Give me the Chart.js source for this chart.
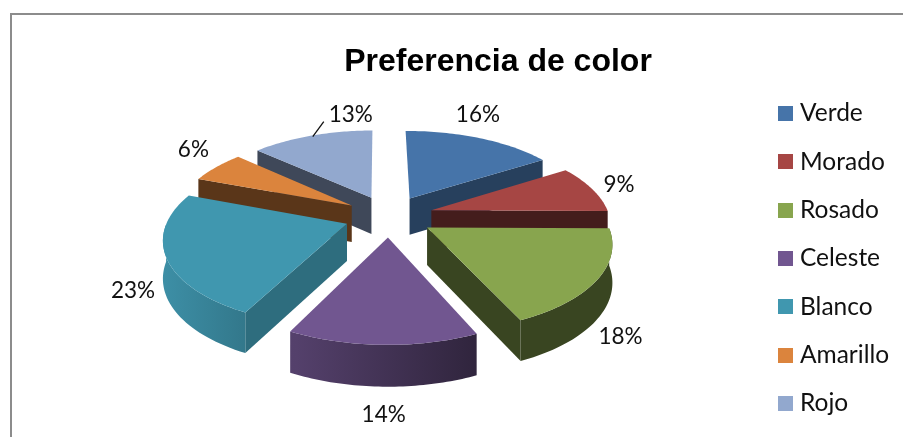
<!DOCTYPE html>
<html>
<head>
<meta charset="utf-8">
<style>
    html, body { margin: 0; padding: 0; background: #fff; }
    #wrap { position: relative; width: 903px; height: 437px; }
</style>
<script src="https://cdn.jsdelivr.net/npm/chart.js@4"></script>
</head>
<body>
<div id="wrap"><canvas id="colorChart" width="903" height="437"></canvas></div>
<script>
const categories = ['Verde', 'Morado', 'Rosado', 'Celeste', 'Blanco', 'Amarillo', 'Rojo'];
const percents = [16, 9, 18, 14, 23, 6, 13];
const sliceColors = ['#4674a9', '#a64644', '#88a54e', '#715690', '#4097af', '#db843d', '#92a8ce'];
// how dark the cut faces of each slice are
const cutShades = [0.55, 0.41, 0.42, 0.6, 0.72, 0.41, 0.43];
// label position relative to the middle of the slice's rim
const labelOffsets = [[-2, -23], [27, -4], [23, 57], [1, 70], [-33, 34], [-23, -17], [39, -21]];

// Pie projected on a tilted plane: front of the pie looks bigger than the back
const view = { cx: 389, cy: 216, rx: 178, ry: 83, persp: 0.156, explode: 0.25 };
const LABEL_FONT = '22.5px Lato';
const LEGEND_FONT = '24.5px Lato';

function project(u, v) {
    const w = 1 / (1 - view.persp * v);
    return { x: view.cx + view.rx * u * w, y: view.cy + view.ry * v * w, w: w };
}

// wall height grows a little towards the viewer
function depth(w) {
    return 17 + 20 * w;
}

function shadeColor(hex, f) {
    const n = parseInt(hex.slice(1), 16);
    const r = Math.round((n >> 16 & 255) * f);
    const g = Math.round((n >> 8 & 255) * f);
    const b = Math.round((n & 255) * f);
    return `rgb(${r},${g},${b})`;
}

// --- slice geometry, taken from the arc elements Chart.js computed ---
function sliceShape(arc) {
    const start = arc.startAngle + Math.PI / 2;
    const end = arc.endAngle + Math.PI / 2;
    const mid = (start + end) / 2;
    const apex = { u: view.explode * Math.sin(mid), v: -view.explode * Math.cos(mid) };
    const rim = [];
    const steps = 48;
    for (let i = 0; i <= steps; i++) {
        const t = start + (end - start) * i / steps;
        rim.push({ t: t, u: apex.u + Math.sin(t), v: apex.v - Math.cos(t) });
    }
    return { start, end, mid, apex, rim };
}

function fillPoly(ctx, pts, fill) {
    ctx.beginPath();
    pts.forEach((p, i) => i === 0 ? ctx.moveTo(p.x, p.y) : ctx.lineTo(p.x, p.y));
    ctx.closePath();
    ctx.fillStyle = fill;
    ctx.fill();
}

function wallQuad(line) {
    const top = line.map(p => project(p.u, p.v));
    const bottom = top.map(p => ({ x: p.x, y: p.y + depth(p.w) })).reverse();
    return top.concat(bottom);
}

function drawSlice(ctx, arc, i) {
    const s = sliceShape(arc);
    const color = sliceColors[i];
    const cutColor = shadeColor(color, cutShades[i]);

    // cut faces, only the ones turned towards the viewer
    if (Math.sin(s.end) > 0.05) {
        fillPoly(ctx, wallQuad([s.apex, s.rim[s.rim.length - 1]]), cutColor);
    }
    if (Math.sin(s.start) < -0.05) {
        fillPoly(ctx, wallQuad([s.apex, s.rim[0]]), cutColor);
    }

    // outer wall, light from the left
    const front = s.rim.filter(p => Math.cos(p.t) < 0);
    if (front.length > 1) {
        const grad = ctx.createLinearGradient(162, 0, 611, 0);
        grad.addColorStop(0, shadeColor(color, 0.95));
        grad.addColorStop(0.2, shadeColor(color, 0.78));
        grad.addColorStop(0.3, shadeColor(color, 0.74));
        grad.addColorStop(0.71, shadeColor(color, 0.42));
        grad.addColorStop(1, shadeColor(color, 0.42));
        fillPoly(ctx, wallQuad(front), grad);
    }

    // top face
    const face = [project(s.apex.u, s.apex.v)].concat(s.rim.map(p => project(p.u, p.v)));
    fillPoly(ctx, face, color);
}

const pie3d = {
    id: 'pie3d',
    beforeDraw(chart) {
        // frame of the chart object, top and left sides
        const ctx = chart.ctx;
        ctx.save();
        ctx.fillStyle = '#8c8c8c';
        ctx.fillRect(10, 13, 893, 2);
        ctx.fillRect(10, 13, 2, 424);
        ctx.restore();
    },
    beforeDatasetDraw(chart, args) {
        const ctx = chart.ctx;
        const arcs = args.meta.data;
        // painter's order: the slices at the back go first
        const order = arcs.map((a, i) => i).sort((a, b) => {
            const ma = (arcs[a].startAngle + arcs[a].endAngle) / 2 + Math.PI / 2;
            const mb = (arcs[b].startAngle + arcs[b].endAngle) / 2 + Math.PI / 2;
            return Math.cos(mb) - Math.cos(ma);
        });
        ctx.save();
        order.forEach(i => drawSlice(ctx, arcs[i], i));
        ctx.restore();
        return false;
    },
    afterDatasetsDraw(chart) {
        const ctx = chart.ctx;
        const arcs = chart.getDatasetMeta(0).data;
        ctx.save();
        ctx.font = LABEL_FONT;
        ctx.fillStyle = '#111';
        ctx.textAlign = 'center';
        ctx.textBaseline = 'middle';
        arcs.forEach((arc, i) => {
            const s = sliceShape(arc);
            const r = 1 + view.explode;
            const p = project(r * Math.sin(s.mid), -r * Math.cos(s.mid));
            ctx.fillText(percents[i] + '%', p.x + labelOffsets[i][0], p.y + labelOffsets[i][1]);

            // Rojo sits far from its slice so it gets a leader line
            if (categories[i] === 'Rojo') {
                ctx.strokeStyle = '#111';
                ctx.lineWidth = 1.3;
                ctx.beginPath();
                ctx.moveTo(p.x + 1, p.y + 1);
                ctx.lineTo(p.x + 12, p.y - 14);
                ctx.stroke();
            }
        });

        // legend column
        ctx.font = LEGEND_FONT;
        ctx.textAlign = 'left';
        categories.forEach((name, i) => {
            const y = 113.5 + i * 48.3;
            ctx.fillStyle = sliceColors[i];
            ctx.fillRect(778, Math.round(y - 7.5), 15, 15);
            ctx.fillStyle = '#111';
            ctx.fillText(name, 800, y);
        });
        ctx.restore();
    }
};

new Chart(document.getElementById('colorChart'), {
    type: 'pie',
    data: {
        labels: categories,
        datasets: [{ data: percents, backgroundColor: sliceColors, borderWidth: 0 }]
    },
    options: {
        responsive: false,
        animation: false,
        rotation: -0.5,
        layout: { padding: { left: 93, top: 43 } },
        plugins: {
            legend: { display: false },
            tooltip: { enabled: false },
            title: {
                display: true,
                text: 'Preferencia de color',
                color: '#000',
                font: { family: 'Liberation Sans', size: 32, weight: 'bold' },
                padding: 0
            }
        }
    },
    plugins: [pie3d]
});
</script>
</body>
</html>
